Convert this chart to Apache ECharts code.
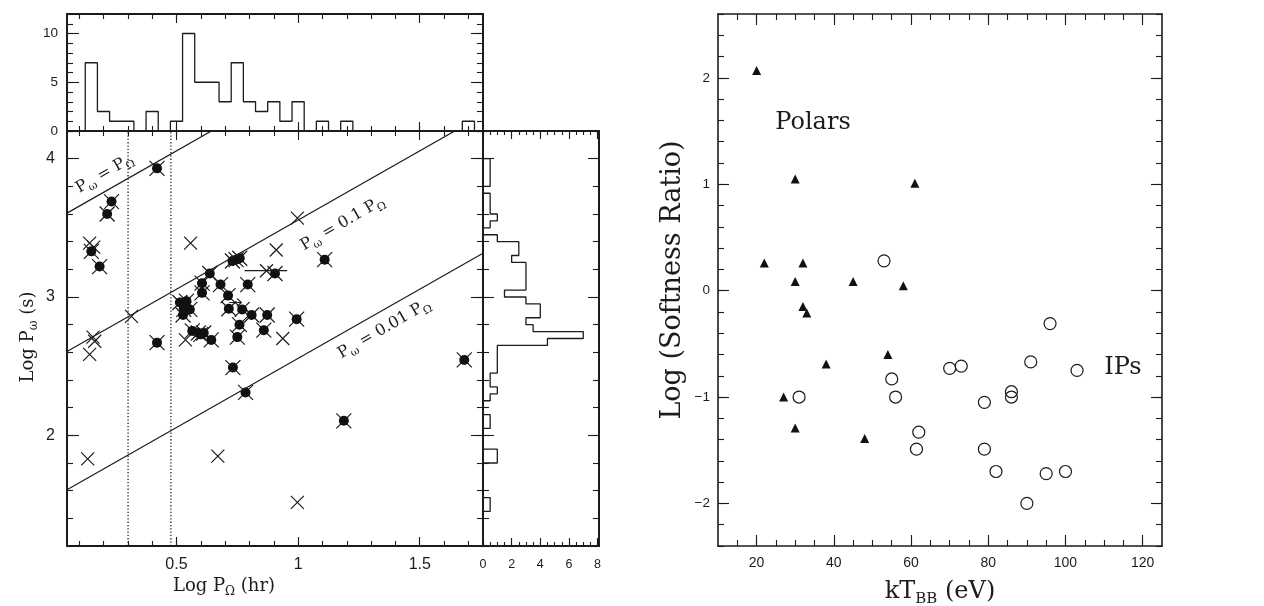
<!DOCTYPE html>
<html>
<head>
<meta charset="utf-8">
<title>Spin vs orbital period, softness ratio vs kT</title>
<script src="https://cdn.jsdelivr.net/npm/echarts@6/dist/echarts.min.js"></script>
<style>
html,body{margin:0;padding:0;background:#fff;}
#chart{width:1264px;height:606px;}
</style>
</head>
<body>
<div id="chart"></div>
<script>
// ---------------- data ----------------
// histogram of Log P_orb (bin edges + counts)
var topHistEdges = [0.125,0.175,0.225,0.275,0.325,0.375,0.425,0.475,0.525,0.575,0.625,0.675,0.725,0.775,0.825,0.875,0.925,0.975,1.025,1.075,1.125,1.175,1.225,1.675,1.725];
var topHistCounts = [7,2,1,1,0,2,0,1,10,5,5,3,7,3,2,3,1,3,0,1,0,1,0,1];
// histogram of Log P_spin (bin edges along y + counts)
var sideHistEdges = [1.45,1.55,1.80,1.90,2.05,2.15,2.25,2.30,2.35,2.45,2.65,2.70,2.75,2.80,2.85,2.95,3.00,3.05,3.25,3.30,3.40,3.45,3.50,3.55,3.60,3.75,3.80,4.00];
var sideHistCounts = [0.5,0,1,0,0.5,0,0.5,1,0.5,1,4.5,7,3.5,3,4,3,1.5,3,2,2.5,1,0,0.5,1,0.5,0,0.5];

// [Log P_orb (hr), Log P_spin (s)]
var crossOnly = [
  [0.143,3.39],[0.16,3.36],[0.558,3.39],[0.997,3.57],[0.91,3.34],[0.87,3.19],
  [0.315,2.86],[0.157,2.71],[0.164,2.68],[0.143,2.585],[0.537,2.69],[0.937,2.70],
  [0.135,1.83],[0.67,1.85],[0.997,1.515]
];
var crossFilled = [
  [0.42,3.93],[0.233,3.69],[0.215,3.60],[0.15,3.33],[0.184,3.22],
  [0.73,3.26],[0.745,3.27],[0.76,3.28],[0.637,3.17],[0.905,3.17],[1.109,3.27],
  [0.605,3.10],[0.681,3.09],[0.793,3.09],[0.605,3.03],[0.712,3.01],
  [0.514,2.96],[0.541,2.97],[0.715,2.915],[0.53,2.91],[0.555,2.91],[0.527,2.87],
  [0.77,2.91],[0.809,2.87],[0.873,2.87],[0.994,2.84],[0.759,2.80],[0.859,2.76],
  [0.565,2.755],[0.59,2.74],[0.612,2.74],[0.6,2.73],[0.643,2.69],[0.75,2.71],
  [0.42,2.67],[0.732,2.49],[0.784,2.31],[1.188,2.105],[1.683,2.545]
];
var errorBars = [[0.78, 0.955, 3.19]];   // [xLow, xHigh, y]
var arrowPoints = [[0.742, 2.96]];
var spinRatios = [1, 0.1, 0.01];         // P_spin = ratio * P_orb
var ratioLabels = ['P{s|ω} = P{s|Ω}', 'P{s|ω} = 0.1 P{s|Ω}', 'P{s|ω} = 0.01 P{s|Ω}'];
var gapLines = [0.301, 0.477];           // log 2 hr, log 3 hr

// [kT_BB (eV), Log softness ratio]
var polars = [
  [20,2.07],[30,1.05],[61,1.01],[22,0.26],[32,0.26],[30,0.085],[45,0.085],[58,0.047],
  [32,-0.15],[33,-0.21],[54,-0.60],[38,-0.69],[27,-1.0],[30,-1.29],[48,-1.39]
];
var ips = [
  [53,0.28],[96,-0.31],[91,-0.67],[70,-0.73],[73,-0.71],[103,-0.75],[55,-0.83],[56,-1.0],
  [31,-1.0],[86,-0.95],[86,-1.0],[79,-1.05],[62,-1.33],[61.4,-1.49],[79,-1.49],[82,-1.70],
  [95,-1.72],[100,-1.70],[90,-2.0]
];

// tick labels
var mainXTicks = [0.5, 1, 1.5];
var mainYTicks = [2, 3, 4];
var topHistYTicks = [0, 5, 10];
var sideHistXTicks = [0, 2, 4, 6, 8];
var rightXTicks = [20, 40, 60, 80, 100, 120];
var rightYTicks = [-2, -1, 0, 1, 2];

// ---------------- helpers ----------------
var INK = '#1c1c1c';
var SANS = 'Liberation Sans';
var SERIF = 'DejaVu Serif';

function range(a, b, step) {
  var out = [];
  for (var v = a; v <= b + 1e-9; v += step) out.push(+v.toFixed(4));
  return out;
}
function fmt(v) { return String(v).replace('-', '\u2212'); }

function tickAxis(grid, side, min, max, ticks, len, labels, o, showLine) {
  return {
    type: 'value', gridIndex: grid, position: side, min: min, max: max,
    axisLine: {show: showLine, onZero: false, lineStyle: {color: INK, width: o.lineWidth || 2}},
    axisTick: {show: true, inside: true, length: len, customValues: ticks, lineStyle: {color: INK, width: 1.1}},
    axisLabel: labels ? {show: true, customValues: labels, margin: o.margin, color: INK,
      fontSize: o.fontSize, fontFamily: SANS, formatter: fmt} : {show: false},
    splitLine: {show: false}, minorTick: {show: false}, minorSplitLine: {show: false}
  };
}
function addAxes(list, grid, sides, min, max, major, minor, o) {
  var first = list.length;
  sides.forEach(function (side, k) {
    list.push(tickAxis(grid, side, min, max, major, o.majLen, k === 0 ? o.labels : null, o, true));
    list.push(tickAxis(grid, side, min, max, minor, o.minLen, null, o, false));
  });
  return first;
}
// outline of a histogram; vertical=true puts counts on x
function histOutline(edges, counts, vertical) {
  var pts = [[edges[0], 0]];
  for (var i = 0; i < counts.length; i++) {
    pts.push([edges[i], counts[i]]);
    pts.push([edges[i + 1], counts[i]]);
  }
  pts.push([edges[edges.length - 1], 0]);
  return vertical ? pts.map(function (p) { return [p[1], p[0]]; }) : pts;
}

var xAxes = [], yAxes = [];
var mainMinor = range(0.1, 1.7, 0.1);
var yMinor = range(1.2, 4.2, 0.2);
var mx = addAxes(xAxes, 0, ['bottom', 'top'], 0.05, 1.76, mainXTicks, mainMinor, {majLen: 9, minLen: 5, labels: mainXTicks, margin: 11, fontSize: 16});
var my = addAxes(yAxes, 0, ['left', 'right'], 1.2, 4.2, mainYTicks, yMinor, {majLen: 12, minLen: 6, labels: mainYTicks, margin: 12, fontSize: 16});
var tx = addAxes(xAxes, 1, ['bottom', 'top'], 0.05, 1.76, mainXTicks, mainMinor, {majLen: 9, minLen: 5});
var ty = addAxes(yAxes, 1, ['left', 'right'], 0, 12, topHistYTicks, range(0, 12, 1), {majLen: 12, minLen: 6, labels: topHistYTicks, margin: 9, fontSize: 13.5});
var sx = addAxes(xAxes, 2, ['bottom', 'top'], 0, 8.1, sideHistXTicks, range(0, 8, 0.5), {majLen: 8, minLen: 4, labels: sideHistXTicks, margin: 12, fontSize: 12.5});
var sy = addAxes(yAxes, 2, ['left', 'right'], 1.2, 4.2, mainYTicks, yMinor, {majLen: 11, minLen: 6});
var rx = addAxes(xAxes, 3, ['bottom', 'top'], 10, 125, rightXTicks, range(15, 120, 5), {majLen: 11, minLen: 6, labels: rightXTicks, margin: 10, fontSize: 14, lineWidth: 1.6});
var ry = addAxes(yAxes, 3, ['left', 'right'], -2.4, 2.6, rightYTicks, range(-2.4, 2.6, 0.2), {majLen: 11, minLen: 6, labels: rightYTicks, margin: 8, fontSize: 13.5, lineWidth: 1.6});

var CROSS = 'path://M0,0L10,10M10,0L0,10';
var ARROW = 'path://M0,5L14,5M9,1L14,5L9,9';
var markStroke = {color: 'transparent', borderColor: INK, borderWidth: 1.2, opacity: 1};

// subscripts: main text top-aligned, subscript centred in a taller box
var subRich = {
  m: {fontFamily: SERIF, fontSize: 16, lineHeight: 16, verticalAlign: 'top', color: INK},
  s: {fontFamily: SERIF, fontSize: 11, lineHeight: 27, verticalAlign: 'middle', color: INK}
};

var series = [];
// histograms
series.push({type: 'line', xAxisIndex: tx, yAxisIndex: ty, data: histOutline(topHistEdges, topHistCounts, false),
  symbol: 'none', lineStyle: {color: INK, width: 1.3}, silent: true});
series.push({type: 'line', xAxisIndex: sx, yAxisIndex: sy, data: histOutline(sideHistEdges, sideHistCounts, true),
  symbol: 'none', lineStyle: {color: INK, width: 1.3}, silent: true});
// P_spin = ratio * P_orb lines (3600 s per hr)
var xMin = 0.05, xMax = 1.76;
spinRatios.forEach(function (r) {
  var off = Math.log10(3600 * r);
  series.push({type: 'line', xAxisIndex: mx, yAxisIndex: my, data: [[xMin, xMin + off], [xMax, xMax + off]],
    symbol: 'none', lineStyle: {color: INK, width: 1.2}, silent: true});
});
// period gap
gapLines.forEach(function (g) {
  series.push({type: 'line', xAxisIndex: mx, yAxisIndex: my, data: [[g, 1.2], [g, 4.2]],
    symbol: 'none', lineStyle: {color: '#222', width: 1.3, type: [1.3, 2]}, silent: true});
});
// error bar
errorBars.forEach(function (e) {
  series.push({type: 'line', xAxisIndex: mx, yAxisIndex: my, data: [[e[0], e[2]], [e[1], e[2]]],
    symbol: 'none', lineStyle: {color: INK, width: 1.2}, silent: true});
});
series.push({type: 'scatter', xAxisIndex: mx, yAxisIndex: my, data: crossOnly, symbol: CROSS, symbolSize: 13, itemStyle: markStroke});
series.push({type: 'scatter', xAxisIndex: mx, yAxisIndex: my, data: crossFilled, symbol: CROSS, symbolSize: 15, itemStyle: markStroke});
series.push({type: 'scatter', xAxisIndex: mx, yAxisIndex: my, data: crossFilled, symbol: 'circle', symbolSize: 10, itemStyle: {color: '#111', opacity: 1}});
series.push({type: 'scatter', xAxisIndex: mx, yAxisIndex: my, data: arrowPoints, symbol: ARROW, symbolSize: [12, 8], itemStyle: markStroke});
// line labels, placed by text centre in data coordinates
var ratioLabelAt = [[0.216, 3.857], [1.194, 3.498], [1.365, 2.735]];
series.push({type: 'scatter', xAxisIndex: mx, yAxisIndex: my, symbolSize: 0, silent: true,
  itemStyle: {opacity: 1},
  data: ratioLabelAt.map(function (p, i) { return {value: p, name: ratioLabels[i]}; }),
  label: {show: true, position: 'inside', rotate: 30, formatter: function (p) {
    return p.name.split(/(\{s\|[^}]*\})/).map(function (t) {
      if (!t) return '';
      if (t.indexOf('{s|') === 0) return t;
      return '{m|' + t + '}';
    }).join('');
  }, rich: subRich}});

// right panel
series.push({type: 'scatter', xAxisIndex: rx, yAxisIndex: ry, data: polars, symbol: 'triangle', symbolSize: 9, itemStyle: {color: '#111', opacity: 1}});
series.push({type: 'scatter', xAxisIndex: rx, yAxisIndex: ry, data: ips, symbol: 'circle', symbolSize: 12,
  itemStyle: {color: 'transparent', borderColor: INK, borderWidth: 1.2, opacity: 1}});

var titleRich = {
  m: {fontFamily: SERIF, fontSize: 18, lineHeight: 18, verticalAlign: 'top', fill: INK},
  s: {fontFamily: SERIF, fontSize: 12, lineHeight: 30, verticalAlign: 'middle', fill: INK},
  b: {fontFamily: SERIF, fontSize: 24, lineHeight: 24, verticalAlign: 'top', fill: INK},
  bs: {fontFamily: SERIF, fontSize: 15, lineHeight: 38, verticalAlign: 'middle', fill: INK},
  t: {fontFamily: SERIF, fontSize: 27, lineHeight: 27, fill: INK}
};
function gtext(x, y, text, rot) {
  return {type: 'text', x: x, y: y, rotation: rot || 0, silent: true,
    style: {text: text, rich: titleRich, align: 'center', verticalAlign: 'middle', fill: INK}};
}

var chart = echarts.init(document.getElementById('chart'), null, {renderer: 'canvas'});
chart.setOption({
  animation: false,
  backgroundColor: '#fff',
  grid: [
    {left: 67, top: 131, width: 416, height: 415, outerBoundsMode: 'none'},
    {left: 67, top: 14, width: 416, height: 117, outerBoundsMode: 'none'},
    {left: 483, top: 131, width: 116, height: 415, outerBoundsMode: 'none'},
    {left: 718, top: 14, width: 444, height: 532, outerBoundsMode: 'none'}
  ],
  xAxis: xAxes,
  yAxis: yAxes,
  series: series,
  graphic: [
    gtext(224, 592, '{m|Log P}{s|Ω}{m| (hr)}'),
    gtext(34, 337, '{m|Log P}{s|ω}{m| (s)}', Math.PI / 2),
    gtext(673, 280, '{t|Log (Softness Ratio)}', Math.PI / 2),
    gtext(940, 599, '{b|kT}{bs|BB}{b| (eV)}'),
    gtext(813, 123, '{b|Polars}'),
    gtext(1123, 368, '{b|IPs}')
  ]
});
</script>
</body>
</html>
